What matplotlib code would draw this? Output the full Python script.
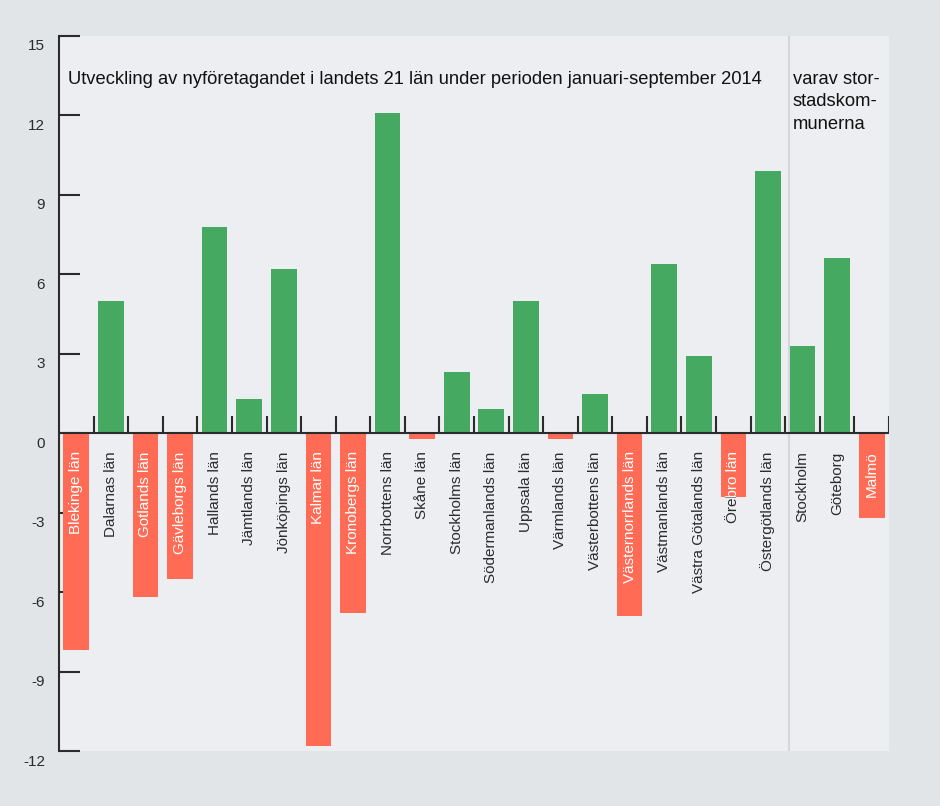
import matplotlib.pyplot as plt
import matplotlib.transforms as mtransforms
import numpy as np

plt.rcParams['font.family'] = ['Liberation Sans', 'DejaVu Sans']

# Förändring av nyföretagandet, procent, jan-sep 2014
regions = ["Blekinge län", "Dalarnas län", "Gotlands län", "Gävleborgs län",
           "Hallands län", "Jämtlands län", "Jönköpings län", "Kalmar län",
           "Kronobergs län", "Norrbottens län", "Skåne län", "Stockholms län",
           "Södermanlands län", "Uppsala län", "Värmlands län", "Västerbottens län",
           "Västernorrlands län", "Västmanlands län", "Västra Götalands län",
           "Örebro län", "Östergötlands län"]
region_values = [-8.2, 5.0, -6.2, -5.5, 7.8, 1.3, 6.2, -11.8, -6.8, 12.1, -0.2,
                 2.3, 0.9, 5.0, -0.2, 1.5, -6.9, 6.4, 2.9, -2.4, 9.9]
cities = ["Stockholm", "Göteborg", "Malmö"]
city_values = [3.3, 6.6, -3.2]

labels = regions + cities
values = region_values + city_values
yticks = [-12, -9, -6, -3, 0, 3, 6, 9, 12, 15]

green = "#45a962"
red = "#ff6b55"
dark = "#2b2b2b"

fig = plt.figure(figsize=(9.4, 8.06), dpi=100)
fig.patch.set_facecolor("#e2e5e8")
ax = fig.add_axes([59 / 940, 55 / 806, 830 / 940, 715 / 806])
ax.set_facecolor("#edeef2")

x = np.arange(len(values))
colors = [green if v >= 0 else red for v in values]
bars = ax.bar(x, values, width=0.74, color=colors, zorder=2)

ax.set_xlim(-0.5, len(values) - 0.5)
ax.set_ylim(-12, 15)

# zero line with small upward ticks between the bars
ax.axhline(0, color=dark, lw=1.5, zorder=3)
bounds = np.arange(len(values) + 1) - 0.5
ax.vlines(bounds[1:], 0, 0.64, color=dark, lw=1.5, zorder=3)

# separator before the big cities
ax.axvline(len(regions) - 0.4, color="#d3d6da", lw=1.5, zorder=1)

for s in ["top", "right", "bottom"]:
    ax.spines[s].set_visible(False)
ax.spines["left"].set_color(dark)
ax.spines["left"].set_linewidth(1.5)

ax.set_xticks([])
ax.set_yticks(yticks)
ax.set_yticklabels([str(t) for t in yticks])
ax.tick_params(axis="y", direction="in", length=15, width=1.5, color=dark,
               pad=10, labelsize=11, labelcolor=dark)
shift = mtransforms.ScaledTranslation(0, -9 / 100, fig.dpi_scale_trans)
for lab in ax.get_yticklabels():
    lab.set_transform(lab.get_transform() + shift)

for i, (lab, v, bar) in enumerate(zip(labels, values, bars)):
    kw = dict(xy=(i, 0), xytext=(0, -13), textcoords="offset points",
              rotation=90, ha="center", va="top", fontsize=11)
    if v >= 0:
        ax.annotate(lab, color=dark, zorder=4, **kw)
    else:
        ax.annotate(lab, color=dark, zorder=1.5, **kw)
        t = ax.annotate(lab, color="white", zorder=4, **kw)
        t.set_clip_path(bar)

fig.text(68 / 940, 1 - 79 / 806, "Utveckling av nyföretagandet i landets 21 län under "
         "perioden januari-september 2014", fontsize=13.2, color="#111111",
         va="center", ha="left")
fig.text(793 / 940, 1 - 71 / 806, "varav stor-\nstadskom-\nmunerna",
         fontsize=13.2, color="#111111", va="top", ha="left", linespacing=1.42)

fig.savefig("out.png", dpi=100, facecolor=fig.get_facecolor())
